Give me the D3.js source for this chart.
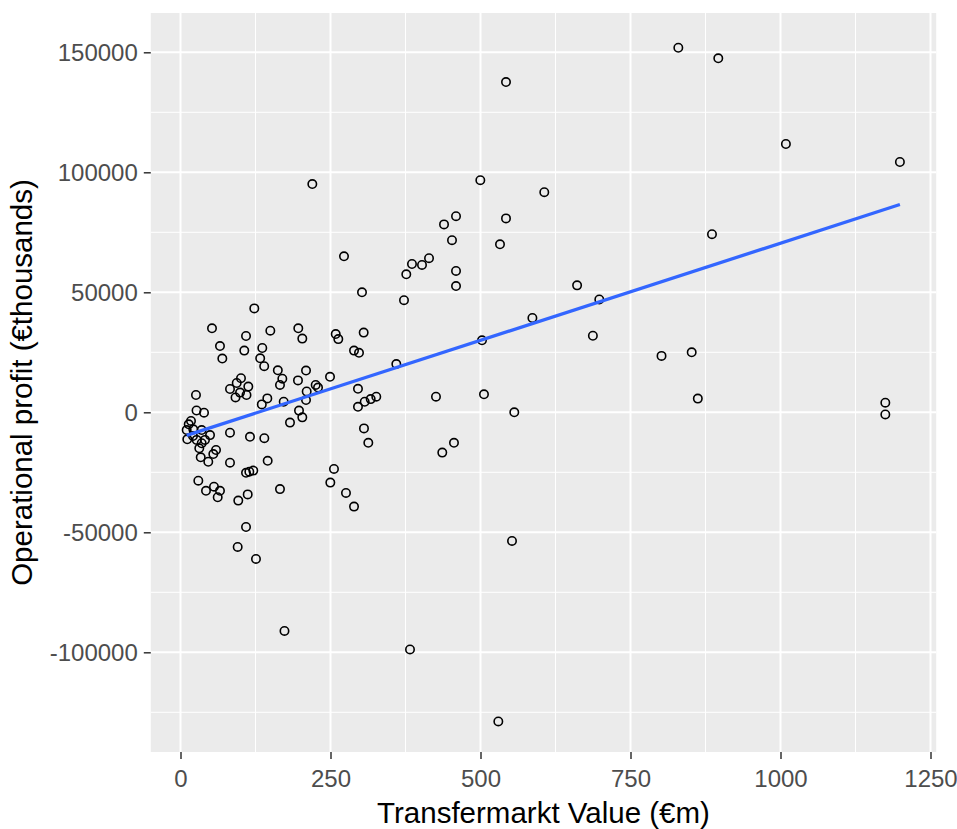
<!DOCTYPE html>
<html>
<head>
<meta charset="utf-8">
<script src="https://cdn.jsdelivr.net/npm/d3@7"></script>
<style>
  body { margin: 0; background: #fff; }
  svg { display: block; font-family: "Liberation Sans", Arial, sans-serif; }
</style>
</head>
<body>
<svg id="chart" width="957" height="829"></svg>
<script>
// Transfermarkt value (€m) per club
const values = [
  829.7, 896.3, 542.5, 1009, 1199, 219.7, 499.7, 606.3, 459.2, 542.5,
  439.2, 885.8, 452.5, 532.5, 272.5, 414.2, 402.5, 385.8, 459.2, 376.3,
  459.2, 661, 302.5, 372.5, 698, 586.5, 687.3, 502.5, 801.7, 852,
  505.8, 862.2, 556.3, 1174.7, 1174.7, 425.8, 455.8, 436.3, 552.5, 382.5,
  529.7, 258.7, 263, 305.3, 289.2, 297.5, 249.2, 359.7, 295.8, 295.8,
  307, 317, 326.3, 305.8, 313, 255.8, 249.7, 275.8, 289.2, 123,
  52.5, 109.2, 149.7, 196.3, 203, 65.8, 69.7, 106.3, 136.3, 132.8,
  139.5, 162.2, 169.7, 165.8, 209.2, 195.8, 210.3, 225.3, 229.2, 209.2,
  197.5, 203, 182.5, 172, 144.7, 135.5, 100.8, 93.7, 113, 82.5,
  99.2, 110, 91.7, 25.8, 26.7, 39.2, 13.7, 10.3, 21.3, 35.3,
  49.2, 11.3, 27, 35.3, 31.3, 20.8, 40.8, 59.2, 54.7, 33.7,
  46.3, 82.5, 114.7, 121.3, 109.2, 145.3, 29.7, 42.5, 55.8, 65.8,
  62, 96.3, 112, 82.5, 115.8, 139.7, 165.8, 109.2, 95.3, 125.8,
  173.3, 17.5
]

// Operational profit (€thousands), same order as values
const profits = [
  151900, 147500, 137600, 111800, 104300, 95100, 96700, 91700, 81700, 80800,
  78300, 74200, 71700, 70000, 65000, 64200, 61400, 61800, 58900, 57500,
  52600, 52900, 50000, 46700, 47000, 39300, 31900, 30000, 23500, 25000,
  7500, 5700, 0, 4000, -900, 6500, -12700, -16800, -53600, -98800,
  -128800, 32600, 30500, 33200, 25700, 24800, 14800, 20100, 9800, 2300,
  4400, 5500, 6500, -6700, -12700, -23600, -29300, -33600, -39300, 43300,
  35000, 31800, 34000, 35000, 30700, 27600, 22400, 25700, 26800, 22500,
  19200, 17500, 14000, 11400, 17400, 13300, 8700, 11400, 10300, 5100,
  700, -2100, -4300, 4400, 5800, 3300, 14200, 12200, 10700, 9700,
  8200, 7200, 6200, 7200, 750, -150, -5000, -7400, -7100, -7400,
  -9500, -11250, -11500, -12900, -15000, -9900, -11500, -15700, -17400, -18750,
  -20600, -21000, -24750, -24300, -25200, -20200, -28500, -32700, -31000, -32700,
  -35400, -36800, -34200, -8500, -10200, -10800, -32000, -47800, -56100, -61100,
  -91100, -3600
]

const xTicks = [0, 250, 500, 750, 1000, 1250]
const xMinor = [125, 375, 625, 875, 1125]
const yTicks = [-100000, -50000, 0, 50000, 100000, 150000]
const yMinor = [-125000, -75000, -25000, 25000, 75000, 125000]

const points = values.map((v, i) => ({ x: v, y: profits[i] }))

const panel = { left: 150.8, right: 936.2, top: 13, bottom: 752 }

const x = d3.scaleLinear()
  .domain([-49.5, 1259.5])
  .range([panel.left, panel.right])

const y = d3.scaleLinear()
  .domain([-141540, 166375])
  .range([panel.bottom, panel.top])

const svg = d3.select('#chart')

// grey panel
svg.append('rect')
  .attr('x', panel.left)
  .attr('y', panel.top)
  .attr('width', panel.right - panel.left)
  .attr('height', panel.bottom - panel.top)
  .attr('fill', '#ebebeb')

const grid = svg.append('g')

// minor grid lines
grid.selectAll('.xminor').data(xMinor).enter().append('line')
  .attr('x1', d => x(d)).attr('x2', d => x(d))
  .attr('y1', panel.top).attr('y2', panel.bottom)
  .attr('stroke', '#fff').attr('stroke-width', 1)
grid.selectAll('.yminor').data(yMinor).enter().append('line')
  .attr('y1', d => y(d)).attr('y2', d => y(d))
  .attr('x1', panel.left).attr('x2', panel.right)
  .attr('stroke', '#fff').attr('stroke-width', 1)

// major grid lines
grid.selectAll('.xmajor').data(xTicks).enter().append('line')
  .attr('x1', d => x(d)).attr('x2', d => x(d))
  .attr('y1', panel.top).attr('y2', panel.bottom)
  .attr('stroke', '#fff').attr('stroke-width', 2)
grid.selectAll('.ymajor').data(yTicks).enter().append('line')
  .attr('y1', d => y(d)).attr('y2', d => y(d))
  .attr('x1', panel.left).attr('x2', panel.right)
  .attr('stroke', '#fff').attr('stroke-width', 2)

// open circles
svg.append('g')
  .selectAll('circle')
  .data(points)
  .enter().append('circle')
  .attr('cx', d => x(d.x))
  .attr('cy', d => y(d.y))
  .attr('r', 4.2)
  .attr('fill', 'none')
  .attr('stroke', '#000')
  .attr('stroke-width', 1.6)

// least squares line, like geom_smooth(method = 'lm')
const mx = d3.mean(points, d => d.x)
const my = d3.mean(points, d => d.y)
const slope = d3.sum(points, d => (d.x - mx) * (d.y - my)) / d3.sum(points, d => (d.x - mx) ** 2)
const intercept = my - slope * mx
const fit = d3.extent(points, d => d.x).map(v => ({ x: v, y: intercept + slope * v }))

svg.append('path')
  .datum(fit)
  .attr('d', d3.line().x(d => x(d.x)).y(d => y(d.y)))
  .attr('fill', 'none')
  .attr('stroke', '#3366ff')
  .attr('stroke-width', 3.3)

// x axis
const xAxis = svg.append('g')
  .attr('transform', `translate(0,${panel.bottom})`)
  .call(d3.axisBottom(x).tickValues(xTicks).tickSize(7).tickSizeOuter(0).tickFormat(d => String(d)))
xAxis.select('.domain').remove()
xAxis.selectAll('line').attr('stroke', '#333').attr('stroke-width', 1.5)
xAxis.selectAll('text')
  .attr('y', 35).attr('dy', 0)
  .attr('fill', '#4d4d4d').attr('font-size', 24)
  .attr('font-family', '"Liberation Sans", Arial, sans-serif')

// y axis
const yAxis = svg.append('g')
  .attr('transform', `translate(${panel.left},0)`)
  .call(d3.axisLeft(y).tickValues(yTicks).tickSize(7).tickSizeOuter(0).tickFormat(d => String(d)))
yAxis.select('.domain').remove()
yAxis.selectAll('line').attr('stroke', '#333').attr('stroke-width', 1.5)
yAxis.selectAll('text')
  .attr('x', -13).attr('dy', '0.35em')
  .attr('fill', '#4d4d4d').attr('font-size', 24)
  .attr('font-family', '"Liberation Sans", Arial, sans-serif')

// axis titles
svg.append('text')
  .attr('x', (panel.left + panel.right) / 2)
  .attr('y', 823)
  .attr('text-anchor', 'middle')
  .attr('font-size', 29.5)
  .attr('fill', '#000')
  .text('Transfermarkt Value (€m)')

svg.append('text')
  .attr('transform', `translate(32,${(panel.top + panel.bottom) / 2}) rotate(-90)`)
  .attr('text-anchor', 'middle')
  .attr('font-size', 29.5)
  .attr('fill', '#000')
  .text('Operational profit (€thousands)')
</script>
</body>
</html>
